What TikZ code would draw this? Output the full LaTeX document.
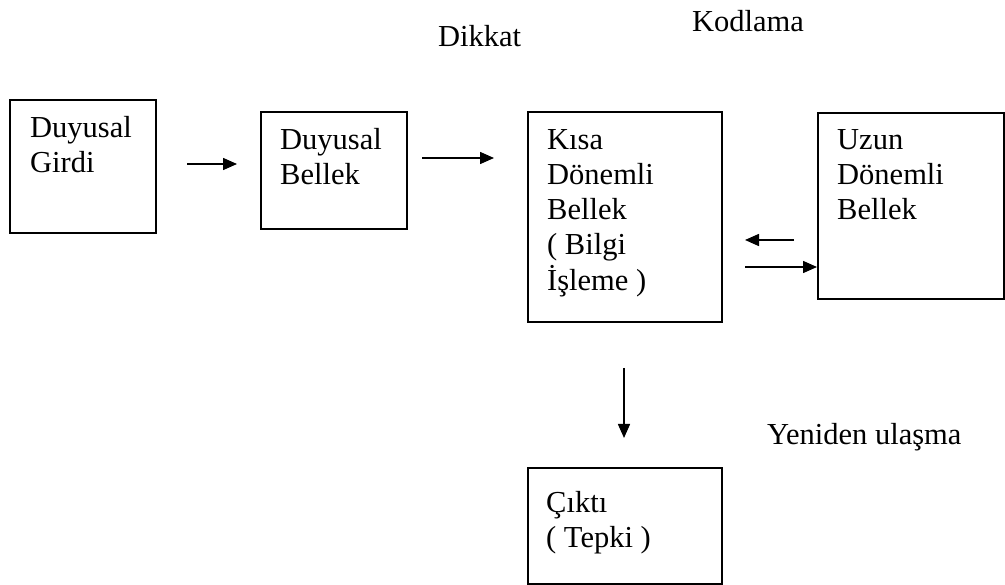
\documentclass[tikz,border=0pt]{standalone}
\usepackage{fontspec}
\setmainfont{Liberation Serif}
\usetikzlibrary{arrows.meta}
\newcommand{\lines}[1]{\begin{tabular}[t]{@{}l@{}}#1\end{tabular}}
\begin{document}
\begin{tikzpicture}[x=1pt,y=-1pt,
  box/.style={draw, line width=1.6pt, anchor=north west, inner sep=0pt},
  lbl/.style={anchor=base west, inner sep=0pt, font=\fontsize{30.5}{35}\selectfont},
  arr/.style={line width=1.5pt, -{Triangle[length=14pt,width=12pt]}}]
\useasboundingbox (0,0) rectangle (1005,585);
% boxes
\node[box, minimum width=146pt, minimum height=133pt] (b1) at (9,99) {};
\node[box, minimum width=146pt, minimum height=117pt] (b2) at (260,111) {};
\node[box, minimum width=194pt, minimum height=210pt] (b3) at (527,111) {};
\node[box, minimum width=186pt, minimum height=186pt] (b4) at (817,112) {};
\node[box, minimum width=194pt, minimum height=116pt] (b5) at (527,467) {};
% box texts
\node[lbl] (t1) at (30,138) {\lines{Duyusal\\Girdi}};
\node[lbl] (t2) at (280,150) {\lines{Duyusal\\Bellek}};
\node[lbl] (t3) at (547,150) {\lines{Kısa\\Dönemli\\Bellek\\( Bilgi\\İşleme )}};
\node[lbl] (t4) at (837,150) {\lines{Uzun\\Dönemli\\Bellek}};
\node[lbl] (t5) at (546,512) {\lines{Çıktı\\( Tepki )}};
% free labels
\node[lbl] (dikkat) at (438,47) {Dikkat};
\node[lbl] (kodlama) at (692,32) {Kodlama};
\node[lbl] (yeniden) at (767,445) {Yeniden ulaşma};
% arrow endpoints
\coordinate (a1s) at (187,164); \coordinate (a1e) at (237,164);
\coordinate (a2s) at (422,158); \coordinate (a2e) at (494,158);
\coordinate (a3s) at (794,240); \coordinate (a3e) at (745,240);
\coordinate (a4s) at (745,267);
\coordinate (a5s) at (624,368); \coordinate (a5e) at (624,438);
\draw[arr] (a1s) -- (a1e);
\draw[arr] (a2s) -- (a2e);
\draw[arr] (a3s) -- (a3e);
\draw[arr] (a4s) -- (a4s -| b4.west);
\draw[arr] (a5s) -- (a5e);
\end{tikzpicture}
\end{document}
